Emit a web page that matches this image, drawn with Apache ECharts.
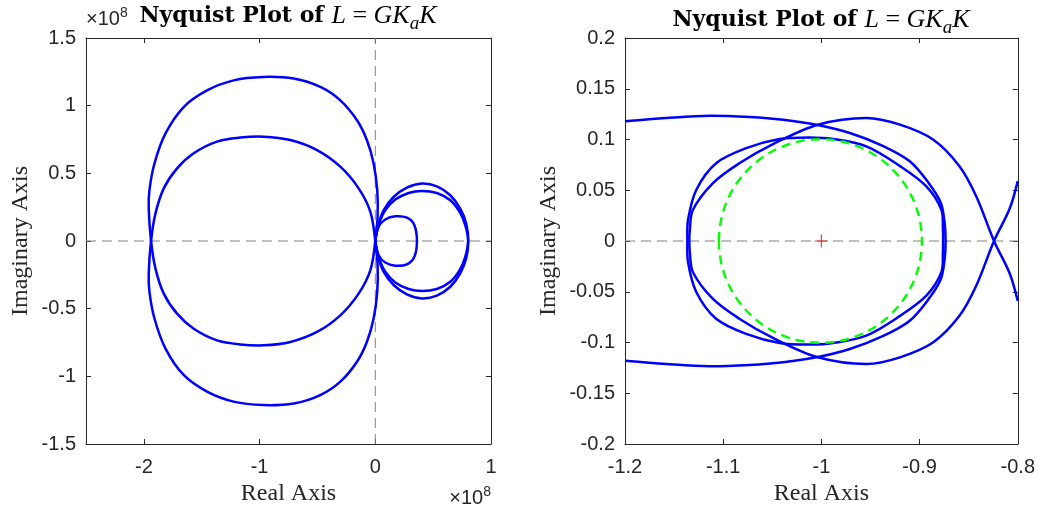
<!DOCTYPE html>
<html>
<head>
<meta charset="utf-8">
<script src="https://cdn.jsdelivr.net/npm/echarts@6/dist/echarts.min.js"></script>
<style>
  html, body { margin: 0; padding: 0; background: #ffffff; }
  #chart { width: 1038px; height: 512px; }
</style>
</head>
<body>
<div id="chart"></div>
<script>
// ---------- Left panel: full Nyquist contour (real/imag in units of 1e8) ----------
const leftXTicks = [-2, -1, 0, 1];

// large lobe, positive-frequency branch: outer upper arc, then inner lower arc
const bigOuterUpper = [[0,0],[0.020,0.177],[0.017,0.374],[-0.014,0.571],[-0.072,0.744],[-0.158,0.892],
  [-0.302,1.039],[-0.475,1.138],[-0.705,1.200],[-0.970,1.212],[-1.224,1.187],[-1.454,1.113],
  [-1.656,0.990],[-1.814,0.793],[-1.909,0.571],[-1.952,0.374],[-1.958,0.239],[-1.938,0]];
const bigInnerLower = [[-1.938,0],[-1.900,-0.202],[-1.828,-0.389],[-1.713,-0.537],[-1.569,-0.648],
  [-1.368,-0.734],[-1.166,-0.764],[-0.965,-0.771],[-0.734,-0.746],[-0.504,-0.672],[-0.302,-0.549],
  [-0.144,-0.389],[-0.043,-0.217],[0,0]];
// large lobe, negative-frequency branch: inner upper arc, then outer lower arc
const bigInnerUpper = [[0,0],[-0.043,0.217],[-0.144,0.389],[-0.302,0.549],[-0.504,0.672],[-0.734,0.746],
  [-0.965,0.771],[-1.166,0.764],[-1.368,0.734],[-1.569,0.648],[-1.713,0.537],[-1.828,0.389],
  [-1.900,0.202],[-1.938,0]];
const bigOuterLower = [[-1.938,0],[-1.958,-0.239],[-1.952,-0.374],[-1.909,-0.571],[-1.814,-0.793],
  [-1.656,-0.990],[-1.454,-1.113],[-1.224,-1.187],[-0.970,-1.212],[-0.705,-1.200],[-0.475,-1.138],
  [-0.302,-1.039],[-0.158,-0.892],[-0.072,-0.744],[-0.014,-0.571],[0.017,-0.374],[0.020,-0.177],[0,0]];

// right-half loops
const midOuterUpper = [[0,0],[0.020,0.103],[0.072,0.227],[0.158,0.325],[0.273,0.394],[0.403,0.424],
  [0.532,0.404],[0.648,0.338],[0.734,0.239],[0.786,0.128],[0.803,0]];
const midInnerLower = [[0.803,0],[0.777,-0.119],[0.729,-0.215],[0.648,-0.301],[0.532,-0.355],
  [0.403,-0.370],[0.288,-0.355],[0.173,-0.306],[0.086,-0.227],[0.029,-0.119],[0,0]];
const midInnerUpper = [[0,0],[0.029,0.119],[0.086,0.227],[0.173,0.306],[0.288,0.355],[0.403,0.370],
  [0.532,0.355],[0.648,0.301],[0.729,0.215],[0.777,0.119],[0.803,0]];
const midOuterLower = [[0.803,0],[0.786,-0.128],[0.734,-0.239],[0.648,-0.338],[0.532,-0.404],
  [0.403,-0.424],[0.273,-0.394],[0.158,-0.325],[0.072,-0.227],[0.020,-0.103],[0,0]];
const smallLoop = [[0,0],[0.029,0.105],[0.086,0.159],[0.173,0.182],[0.274,0.172],[0.337,0.119],
  [0.360,0],[0.337,-0.119],[0.274,-0.172],[0.173,-0.182],[0.086,-0.159],[0.029,-0.105]];

// dashed zero lines of the left panel
const leftRealZero = [[-2.5,0],[1,0]];
const leftImagZero = [[0,-1.5],[0,1.5]];

// ---------- Right panel: close-up around the critical point ----------
const curveA = [[-1.2,0.118],[-1.158,0.1212],[-1.114,0.1235],[-1.073,0.1222],[-1.039,0.1195],
  [-1.005,0.1146],[-0.971,0.1064],[-0.937,0.0935],[-0.910,0.0785],[-0.891,0.0575],[-0.8785,0.038],
  [-0.8745,0.018],[-0.8735,0],[-0.8745,-0.018],[-0.8785,-0.038],[-0.891,-0.0575],[-0.910,-0.0785],
  [-0.937,-0.0935],[-0.971,-0.1064],[-1.005,-0.1146],[-1.039,-0.1195],[-1.073,-0.1222],
  [-1.114,-0.1235],[-1.158,-0.1212],[-1.2,-0.118]];
const curveB = [[-0.8,0.059],[-0.8083,0.0317],[-0.8242,0],[-0.8422,-0.0439],[-0.8592,-0.0735],
  [-0.886,-0.0998],[-0.92,-0.1146],[-0.9542,-0.1212],[-1.0035,-0.1146],[-1.0493,-0.0955],
  [-1.0832,-0.0768],[-1.1104,-0.0571],[-1.1308,-0.0308],[-1.134,-0.011],[-1.1345,0],
  [-1.134,0.011],[-1.1308,0.0308],[-1.1104,0.0571],[-1.0832,0.0768],[-1.0493,0.0955],
  [-1.0035,0.1146],[-0.9542,0.1212],[-0.92,0.1146],[-0.886,0.0998],[-0.8592,0.0735],
  [-0.8422,0.0439],[-0.8242,0],[-0.8083,-0.0317],[-0.8,-0.059]];
const loopC = [[-1.012,0.102],[-0.9882,0.1005],[-0.9542,0.0932],[-0.9203,0.074],[-0.8931,0.0538],
  [-0.8778,0.0308],[-0.8762,0.011],[-0.876,0],[-0.8762,-0.011],[-0.8778,-0.0308],[-0.8931,-0.0538],
  [-0.9203,-0.074],[-0.9542,-0.0932],[-0.9882,-0.1005],[-1.012,-0.102],[-1.0425,-0.1005],
  [-1.075,-0.092],[-1.1069,-0.0768],[-1.1273,-0.0505],[-1.1358,-0.0209],[-1.1365,0],
  [-1.1358,0.0209],[-1.1273,0.0505],[-1.1069,0.0768],[-1.075,0.092],[-1.0425,0.1005]];
const rightRealZero = [[-1.2,0],[-0.8,0]];
const criticalPoint = [[-1, 0]];
// stability-margin circle: centre x, centre y, radius along x, radius along y
const marginCircle = [[-1.001, 0, 0.1034, 0.1003]];

const AXIS_COLOR = '#262626';
const BLUE = '#0000ff';

function frameAxis(gridIndex, position, extra) {
  return Object.assign({
    type: 'value', gridIndex: gridIndex, position: position,
    axisLine: { show: true, onZero: false, lineStyle: { color: AXIS_COLOR, width: 1 } },
    axisTick: { show: true, inside: true, length: 5, lineStyle: { color: AXIS_COLOR, width: 1 } },
    axisLabel: { show: false },
    splitLine: { show: false }
  }, extra);
}
const tickFont = { color: AXIS_COLOR, fontFamily: 'Liberation Sans', fontSize: 20 };
const nameFont = { color: AXIS_COLOR, fontFamily: 'Liberation Serif', fontSize: 24 };

// Nyquist branch drawn as a spline through its sampled points, placed by the grid's axes
function curve(points, grid, closed) {
  return {
    type: 'custom', xAxisIndex: grid * 2, yAxisIndex: grid * 2, data: points,
    silent: true, z: 3,
    renderItem: function (params, api) {
      if (params.dataIndex !== 0) return null;
      const pts = points.map(function (p) { return api.coord(p); });
      return {
        type: closed ? 'polygon' : 'polyline',
        shape: { points: pts, smooth: 0.33 },
        style: { fill: 'none', stroke: BLUE, lineWidth: 2.5, lineJoin: 'round' }
      };
    }
  };
}
function zeroLine(data, grid) {
  return {
    type: 'line', xAxisIndex: grid * 2, yAxisIndex: grid * 2, data: data,
    symbol: 'none', showSymbol: false, silent: true, z: 2,
    lineStyle: { color: '#808080', width: 1, type: [10, 6] }
  };
}

const titleRich = {
  b: { fontFamily: 'DejaVu Serif', fontWeight: 'bold', fontSize: 22, fill: '#000000' },
  i: { fontFamily: 'Liberation Serif', fontStyle: 'italic', fontSize: 26, fill: '#000000' },
  r: { fontFamily: 'Liberation Serif', fontSize: 26, fill: '#000000' },
  s: { fontFamily: 'Liberation Serif', fontStyle: 'italic', fontSize: 19, fill: '#000000', padding: [16, 0, 0, 0] }
};
const titleText = '{b|Nyquist Plot of }{i|L}{r| = }{i|GK}{s|a}{i|K}';
const expRich = {
  m: { fontFamily: 'Liberation Sans', fontSize: 20, fill: AXIS_COLOR },
  e: { fontFamily: 'Liberation Sans', fontSize: 14, fill: AXIS_COLOR, padding: [0, 0, 11, 0] }
};

const option = {
  animation: false,
  backgroundColor: '#ffffff',
  grid: [
    { left: 86, top: 38, width: 405, height: 406 },
    { left: 625, top: 38, width: 393, height: 406 }
  ],
  xAxis: [
    frameAxis(0, 'bottom', {
      min: -2.5, max: 1,
      axisTick: { show: true, inside: true, length: 5, customValues: leftXTicks, lineStyle: { color: AXIS_COLOR } },
      axisLabel: Object.assign({ show: true, margin: 13, customValues: leftXTicks }, tickFont),
      name: 'Real Axis', nameLocation: 'middle', nameGap: 37, nameTextStyle: nameFont
    }),
    frameAxis(0, 'top', {
      min: -2.5, max: 1,
      axisTick: { show: true, inside: true, length: 5, customValues: leftXTicks, lineStyle: { color: AXIS_COLOR } }
    }),
    frameAxis(1, 'bottom', {
      min: -1.2, max: -0.8, interval: 0.1,
      axisLabel: Object.assign({ show: true, margin: 13 }, tickFont),
      name: 'Real Axis', nameLocation: 'middle', nameGap: 37, nameTextStyle: nameFont
    }),
    frameAxis(1, 'top', { min: -1.2, max: -0.8, interval: 0.1 })
  ],
  yAxis: [
    frameAxis(0, 'left', {
      min: -1.5, max: 1.5, interval: 0.5,
      axisLabel: Object.assign({ show: true, margin: 10 }, tickFont),
      name: 'Imaginary Axis', nameLocation: 'middle', nameGap: 53, nameTextStyle: nameFont
    }),
    frameAxis(0, 'right', { min: -1.5, max: 1.5, interval: 0.5 }),
    frameAxis(1, 'left', {
      min: -0.2, max: 0.2, interval: 0.05,
      axisLabel: Object.assign({ show: true, margin: 10 }, tickFont),
      name: 'Imaginary Axis', nameLocation: 'middle', nameGap: 64, nameTextStyle: nameFont
    }),
    frameAxis(1, 'right', { min: -0.2, max: 0.2, interval: 0.05 })
  ],
  graphic: [
    { type: 'text', x: 288, y: 16, style: { text: titleText, rich: titleRich, align: 'center', verticalAlign: 'middle' } },
    { type: 'text', x: 821, y: 20, style: { text: titleText, rich: titleRich, align: 'center', verticalAlign: 'middle' } },
    { type: 'text', x: 86, y: 19, style: { text: '{m|\u00d710}{e|8}', rich: expRich, align: 'left', verticalAlign: 'middle' } },
    { type: 'text', x: 491, y: 498, style: { text: '{m|\u00d710}{e|8}', rich: expRich, align: 'right', verticalAlign: 'middle' } }
  ],
  series: [
    zeroLine(leftRealZero, 0),
    zeroLine(leftImagZero, 0),
    curve(bigOuterUpper.concat(bigInnerLower.slice(1)), 0, false),
    curve(bigInnerUpper.concat(bigOuterLower.slice(1)), 0, false),
    curve(midOuterUpper.concat(midInnerLower.slice(1)), 0, false),
    curve(midInnerUpper.concat(midOuterLower.slice(1)), 0, false),
    curve(smallLoop, 0, true),

    zeroLine(rightRealZero, 1),
    curve(curveA, 1, false),
    curve(curveB, 1, false),
    curve(loopC, 1, true),
    {
      type: 'custom', xAxisIndex: 2, yAxisIndex: 2, data: marginCircle, silent: true, z: 4,
      renderItem: function (params, api) {
        const c = api.coord([api.value(0), api.value(1)]);
        const rx = api.size([api.value(2), 0])[0];
        const ry = api.size([0, api.value(3)])[1];
        return {
          type: 'ellipse',
          shape: { cx: c[0], cy: c[1], rx: rx, ry: ry },
          style: { fill: 'none', stroke: '#00ff00', lineWidth: 2.4, lineDash: [9, 6] }
        };
      }
    },
    {
      type: 'scatter', xAxisIndex: 2, yAxisIndex: 2, data: criticalPoint, silent: true, z: 5,
      symbol: 'path://M0,6L12,6M6,0L6,12', symbolSize: 13,
      itemStyle: { color: 'none', borderColor: '#ff0000', borderWidth: 1.2 }
    }
  ]
};

const chart = echarts.init(document.getElementById('chart'), null, { renderer: 'canvas' });
chart.setOption(option);
</script>
</body>
</html>
